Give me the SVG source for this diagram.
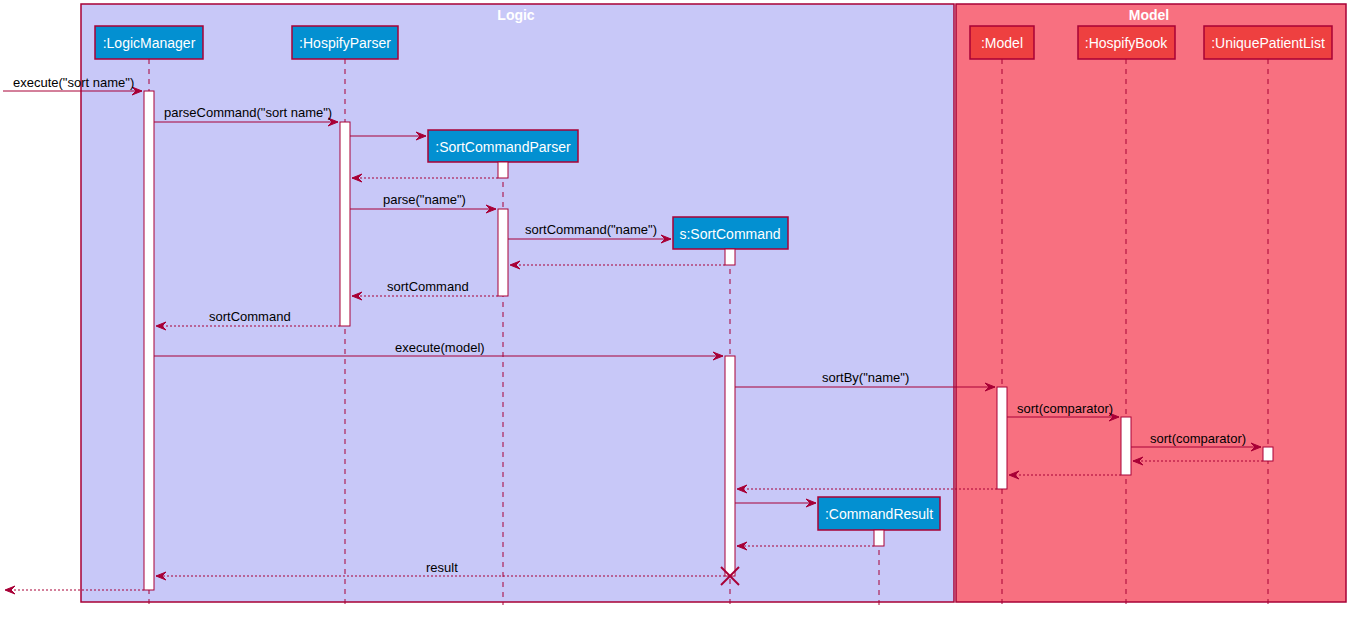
<svg xmlns="http://www.w3.org/2000/svg" width="1356" height="619" viewBox="0 0 1356 619">
<style>
.box{stroke:#A80036;stroke-width:1.5}
.lt{fill:#0390D1}
.mt{fill:#EE4040}
.pt{font-family:"Liberation Sans",Arial,sans-serif;font-size:14px;fill:#FFFFFF;text-anchor:middle}
.gt{font-family:"Liberation Sans",Arial,sans-serif;font-size:14px;font-weight:bold;fill:#FFFFFF;text-anchor:middle}
.ml{font-family:"Liberation Sans",Arial,sans-serif;font-size:13px;fill:#000000}
.life{stroke:#A80036;stroke-width:1;stroke-dasharray:5,5;fill:none}
.act{fill:#FFFFFF;stroke:#A80036;stroke-width:1}
.msg{stroke:#A80036;stroke-width:1;fill:none}
.ret{stroke:#A80036;stroke-width:1;stroke-dasharray:2,2;fill:none}
.ah{fill:#A80036;stroke:#A80036;stroke-width:1}
</style>
<rect width="1356" height="619" fill="#FFFFFF"/>
<g id="group-logic">
<rect x="81" y="4" width="873" height="598" fill="#C8C8F8" stroke="#A80036" stroke-width="1.5"/>
<text class="gt" x="516" y="20">Logic</text>
</g>
<g id="group-model">
<rect x="956" y="4" width="390" height="598" fill="#F87080" stroke="#A80036" stroke-width="1.5"/>
<text class="gt" x="1149" y="20">Model</text>
</g>
<g id="lifelines">
<line class="life" x1="149" y1="59" x2="149" y2="605"/>
<line class="life" x1="345" y1="59" x2="345" y2="605"/>
<line class="life" x1="503" y1="162" x2="503" y2="605"/>
<line class="life" x1="730" y1="249" x2="730" y2="605"/>
<line class="life" x1="879" y1="530" x2="879" y2="605"/>
<line class="life" x1="1002" y1="59" x2="1002" y2="605"/>
<line class="life" x1="1126" y1="59" x2="1126" y2="605"/>
<line class="life" x1="1268" y1="59" x2="1268" y2="605"/>
</g>
<g id="LogicManager"><rect class="box lt" x="95" y="26" width="108" height="33"/><text class="pt" x="149" y="48">:LogicManager</text></g>
<g id="HospifyParser"><rect class="box lt" x="292" y="26" width="106" height="33"/><text class="pt" x="345" y="48">:HospifyParser</text></g>
<g id="SortCommandParser"><rect class="box lt" x="428" y="130" width="150" height="32"/><text class="pt" x="503" y="152">:SortCommandParser</text></g>
<g id="SortCommand"><rect class="box lt" x="673" y="217" width="115" height="32"/><text class="pt" x="730" y="239">s:SortCommand</text></g>
<g id="CommandResult"><rect class="box lt" x="818" y="497" width="122" height="33"/><text class="pt" x="879" y="519">:CommandResult</text></g>
<g id="Model"><rect class="box mt" x="970" y="26" width="64" height="33"/><text class="pt" x="1002" y="48">:Model</text></g>
<g id="HospifyBook"><rect class="box mt" x="1078" y="26" width="97" height="33"/><text class="pt" x="1126" y="48">:HospifyBook</text></g>
<g id="UniquePatientList"><rect class="box mt" x="1204" y="26" width="128" height="33"/><text class="pt" x="1268" y="48">:UniquePatientList</text></g>
<g id="activations">
<rect class="act" x="144" y="91" width="10" height="499"/>
<rect class="act" x="340" y="122" width="10" height="204"/>
<rect class="act" x="498" y="162" width="10" height="16"/>
<rect class="act" x="498" y="209" width="10" height="87"/>
<rect class="act" x="725" y="249" width="10" height="16"/>
<rect class="act" x="725" y="356" width="10" height="220"/>
<rect class="act" x="997" y="387" width="10" height="102"/>
<rect class="act" x="1121" y="417" width="10" height="58"/>
<rect class="act" x="1263" y="447" width="10" height="14"/>
<rect class="act" x="874" y="530" width="10" height="16"/>
</g>
<g id="connectors">
<!-- execute("sort name") -->
<line class="msg" x1="3" y1="91" x2="142" y2="91"/><polygon class="ah" points="132,87 142,91 132,95 136,91"/>
<text class="ml" x="13" y="87">execute("sort name")</text>
<!-- parseCommand -->
<line class="msg" x1="154" y1="122" x2="338" y2="122"/><polygon class="ah" points="328,118 338,122 328,126 332,122"/>
<text class="ml" x="164" y="117">parseCommand("sort name")</text>
<!-- create SortCommandParser -->
<line class="msg" x1="350" y1="136" x2="426" y2="136"/><polygon class="ah" points="416,132 426,136 416,140 420,136"/>
<!-- return -->
<line class="ret" x1="498" y1="178" x2="352" y2="178"/><polygon class="ah" points="362,174 352,178 362,182 358,178"/>
<!-- parse("name") -->
<line class="msg" x1="350" y1="209" x2="496" y2="209"/><polygon class="ah" points="486,205 496,209 486,213 490,209"/>
<text class="ml" x="383" y="204">parse("name")</text>
<!-- sortCommand("name") -->
<line class="msg" x1="508" y1="239" x2="671" y2="239"/><polygon class="ah" points="661,235 671,239 661,243 665,239"/>
<text class="ml" x="525" y="234">sortCommand("name")</text>
<!-- return -->
<line class="ret" x1="725" y1="265" x2="510" y2="265"/><polygon class="ah" points="520,261 510,265 520,269 516,265"/>
<!-- sortCommand return -->
<line class="ret" x1="498" y1="296" x2="352" y2="296"/><polygon class="ah" points="362,292 352,296 362,300 358,296"/>
<text class="ml" x="387" y="291">sortCommand</text>
<line class="ret" x1="340" y1="326" x2="156" y2="326"/><polygon class="ah" points="166,322 156,326 166,330 162,326"/>
<text class="ml" x="209" y="321">sortCommand</text>
<!-- execute(model) -->
<line class="msg" x1="154" y1="356" x2="723" y2="356"/><polygon class="ah" points="713,352 723,356 713,360 717,356"/>
<text class="ml" x="395" y="352">execute(model)</text>
<!-- sortBy -->
<line class="msg" x1="735" y1="387" x2="995" y2="387"/><polygon class="ah" points="985,383 995,387 985,391 989,387"/>
<text class="ml" x="822" y="382">sortBy("name")</text>
<!-- sort(comparator) -->
<line class="msg" x1="1007" y1="417" x2="1119" y2="417"/><polygon class="ah" points="1109,413 1119,417 1109,421 1113,417"/>
<text class="ml" x="1017" y="413">sort(comparator)</text>
<line class="msg" x1="1131" y1="447" x2="1261" y2="447"/><polygon class="ah" points="1251,443 1261,447 1251,451 1255,447"/>
<text class="ml" x="1150" y="443">sort(comparator)</text>
<!-- returns -->
<line class="ret" x1="1263" y1="461" x2="1133" y2="461"/><polygon class="ah" points="1143,457 1133,461 1143,465 1139,461"/>
<line class="ret" x1="1121" y1="475" x2="1009" y2="475"/><polygon class="ah" points="1019,471 1009,475 1019,479 1015,475"/>
<line class="ret" x1="997" y1="489" x2="737" y2="489"/><polygon class="ah" points="747,485 737,489 747,493 743,489"/>
<!-- create CommandResult -->
<line class="msg" x1="735" y1="503" x2="816" y2="503"/><polygon class="ah" points="806,499 816,503 806,507 810,503"/>
<line class="ret" x1="874" y1="546" x2="737" y2="546"/><polygon class="ah" points="747,542 737,546 747,550 743,546"/>
<!-- result -->
<line class="ret" x1="725" y1="576" x2="156" y2="576"/><polygon class="ah" points="166,572 156,576 166,580 162,576"/>
<text class="ml" x="426" y="572">result</text>
<!-- destroy -->
<line x1="721" y1="567" x2="739" y2="585" stroke="#A80036" stroke-width="2"/>
<line x1="739" y1="567" x2="721" y2="585" stroke="#A80036" stroke-width="2"/>
<!-- final return -->
<line class="ret" x1="144" y1="590" x2="5" y2="590"/><polygon class="ah" points="15,586 5,590 15,594 11,590"/>
</g>
</svg>
